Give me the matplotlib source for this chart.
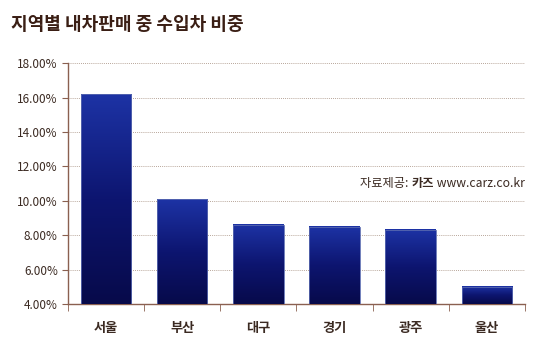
import numpy as np
import matplotlib.pyplot as plt
from matplotlib.colors import LinearSegmentedColormap

plt.rcParams['font.family'] = ['Noto Sans CJK KR', 'DejaVu Sans']

regions = ['서울', '부산', '대구', '경기', '광주', '울산']
share = [16.2, 10.1, 8.6, 8.5, 8.3, 5.0]
yticks = [4, 6, 8, 10, 12, 14, 16, 18]

text_col = '#3b2a22'
axis_col = '#8a6050'

fig = plt.figure(figsize=(5.5, 3.57), dpi=100)
ax = fig.add_axes([0.124, 0.148, 0.83, 0.675])

x = np.arange(len(regions))
bars = ax.bar(x, share, width=0.66, bottom=0, color='none', zorder=3)

cmap = LinearSegmentedColormap.from_list('bar', ['#070a4a', '#0d1570', '#1d33a5'])
grad = np.linspace(0, 1, 256).reshape(-1, 1)
for b in bars:
    x0, w, h = b.get_x(), b.get_width(), b.get_height()
    ax.imshow(grad, cmap=cmap, aspect='auto', origin='lower',
              extent=[x0, x0 + w, 4, h], zorder=3)
    ax.add_patch(plt.Rectangle((x0, 4), w, h - 4, fill=False,
                               edgecolor='#5a6ab0', lw=0.6, zorder=4))

ax.set_xlim(-0.5, len(regions) - 0.5)
ax.set_ylim(4, 18)
ax.set_yticks(yticks)
ax.set_yticklabels([f'{v:.2f}%' for v in yticks], fontsize=8.5, color=text_col)
ax.set_xticks(x)
ax.set_xticklabels(regions, fontsize=9.5, color=text_col, fontweight='bold')
ax.set_xticks(np.arange(-0.5, len(regions)), minor=True)
ax.tick_params(axis='x', which='major', length=0, pad=12)
ax.tick_params(axis='x', which='minor', length=5, color=axis_col, direction='out')
ax.tick_params(axis='y', length=4, color=axis_col, direction='out')

ax.grid(axis='y', linestyle=(0, (1, 1.5)), color='#a08878', lw=0.6, zorder=1)
for s in ['top', 'right']:
    ax.spines[s].set_visible(False)
for s in ['left', 'bottom']:
    ax.spines[s].set_color(axis_col)
    ax.spines[s].set_linewidth(1.0)

fig.text(0.02, 0.93, '지역별 내차판매 중 수입차 비중', fontsize=13,
         fontweight='bold', color='#3a1e14', va='center')

# source note: "카즈" in bold, pieces placed right to left
fs = 8.8
fig.canvas.draw()
r = fig.canvas.get_renderer()
t3 = ax.text(1.0, 0.5, ' www.carz.co.kr', transform=ax.transAxes,
             ha='right', va='center', fontsize=fs, color=text_col, zorder=5)
w3 = t3.get_window_extent(r).width
t2 = ax.annotate('카즈', (1.0, 0.5), xycoords='axes fraction',
                 xytext=(-w3 * 72 / fig.dpi, 0), textcoords='offset points',
                 ha='right', va='center', fontsize=fs, color=text_col,
                 fontweight='bold', zorder=5)
w2 = t2.get_window_extent(r).width
ax.annotate('자료제공: ', (1.0, 0.5), xycoords='axes fraction',
            xytext=(-(w3 + w2) * 72 / fig.dpi, 0), textcoords='offset points',
            ha='right', va='center', fontsize=fs, color=text_col, zorder=5)

fig.savefig('out.png', dpi=100)
